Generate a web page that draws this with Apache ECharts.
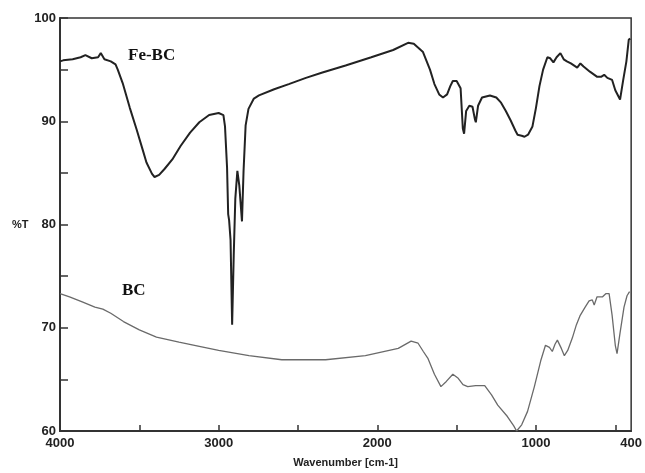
<!DOCTYPE html>
<html>
<head>
<meta charset="utf-8">
<script src="https://cdn.jsdelivr.net/npm/echarts@6/dist/echarts.min.js"></script>
<style>
  html, body { margin: 0; padding: 0; background: #fff; }
  #chart { width: 645px; height: 473px; }
</style>
</head>
<body>
<div id="chart"></div>
<script>
// Fe-BC spectrum (wavenumber, %T)
const feWn = [4000, 3980, 3920, 3870, 3840, 3800, 3760, 3743, 3720, 3680, 3650, 3636, 3605, 3560, 3517, 3480, 3455, 3420, 3404, 3375, 3340, 3292, 3240, 3180, 3122, 3060, 3000, 2970, 2960, 2947, 2940, 2934, 2925, 2915, 2905, 2895, 2882, 2870, 2853, 2843, 2830, 2812, 2778, 2746, 2650, 2558, 2450, 2351, 2200, 2038, 1900, 1806, 1770, 1712, 1668, 1640, 1610, 1586, 1560, 1540, 1524, 1500, 1475, 1461, 1453, 1440, 1420, 1400, 1385, 1379, 1365, 1340, 1290, 1250, 1220, 1190, 1160, 1130, 1116, 1090, 1072, 1050, 1022, 1000, 978, 955, 928, 910, 890, 870, 846, 825, 805, 780, 740, 720, 700, 660, 614, 590, 570, 550, 520, 500, 470, 450, 430, 415, 405];
const feT = [95.8, 95.9, 96.0, 96.2, 96.4, 96.1, 96.2, 96.6, 96.0, 95.8, 95.5, 95.0, 93.7, 91.3, 89.2, 87.3, 86.0, 84.9, 84.6, 84.8, 85.4, 86.3, 87.6, 88.9, 89.9, 90.6, 90.8, 90.6, 89.5, 85.5, 81.0, 80.4, 78.5, 70.3, 77.0, 82.5, 85.2, 83.8, 80.3, 85.2, 89.6, 91.2, 92.2, 92.5, 93.1, 93.6, 94.2, 94.7, 95.4, 96.2, 96.9, 97.6, 97.5, 96.7, 95.0, 93.6, 92.6, 92.3, 92.6, 93.4, 93.9, 93.9, 93.2, 89.3, 88.8, 91.0, 91.5, 91.4, 90.2, 89.9, 91.5, 92.3, 92.5, 92.3, 91.8, 91.0, 90.1, 89.1, 88.7, 88.6, 88.5, 88.7, 89.5, 91.3, 93.4, 95.0, 96.2, 96.1, 95.7, 96.2, 96.6, 96.0, 95.8, 95.6, 95.2, 95.6, 95.3, 94.8, 94.3, 94.3, 94.5, 94.2, 94.0, 93.0, 92.1, 94.0, 95.8, 97.9, 98.0];

// BC spectrum (wavenumber, %T)
const bcWn = [4000, 3940, 3860, 3780, 3730, 3680, 3600, 3500, 3392, 3250, 3122, 3000, 2809, 2602, 2326, 2075, 1868, 1787, 1743, 1710, 1680, 1640, 1599, 1565, 1524, 1490, 1460, 1430, 1380, 1323, 1280, 1241, 1180, 1140, 1122, 1090, 1053, 1010, 970, 940, 915, 897, 880, 865, 840, 821, 800, 771, 745, 721, 690, 665, 645, 633, 615, 580, 560, 539, 520, 500, 489, 470, 445, 426, 410];
const bcT = [73.3, 73.0, 72.5, 72.0, 71.8, 71.4, 70.6, 69.8, 69.1, 68.6, 68.2, 67.8, 67.3, 66.9, 66.9, 67.3, 68.0, 68.7, 68.5, 67.7, 67.0, 65.5, 64.3, 64.8, 65.5, 65.1, 64.5, 64.3, 64.4, 64.4, 63.5, 62.5, 61.4, 60.5, 60.0, 60.6, 61.9, 64.3, 66.8, 68.3, 68.1, 67.7, 68.4, 68.8, 68.0, 67.3, 67.8, 69.0, 70.3, 71.2, 72.0, 72.6, 72.7, 72.2, 73.0, 73.0, 73.3, 73.3, 71.2, 68.3, 67.5, 69.5, 72.0, 73.1, 73.5];

// axis ticks / labels
const xTicks = [4000, 3500, 3000, 2500, 2000, 1500, 1000, 500];
const xLabels = [4000, 3000, 2000, 1000, 400];

const zip = (a, b) => a.map((v, i) => [v, b[i]]);

const chart = echarts.init(document.getElementById('chart'));
const labelFont = { color: '#222', fontWeight: 'bold', fontSize: 13, fontFamily: 'Liberation Sans, Arial, sans-serif' };

const option = {
  animation: false,
  grid: {
    left: 60, right: 12, top: 18, bottom: 40,
    show: true, borderColor: '#333', borderWidth: 1.5,
  },
  xAxis: {
    type: 'value',
    inverse: true,
    min: 400,
    max: 4000,
    name: 'Wavenumber [cm-1]',
    nameLocation: 'middle',
    nameGap: 26,
    nameTextStyle: { color: '#222', fontWeight: 'bold', fontSize: 11, fontFamily: 'Liberation Sans, Arial, sans-serif' },
    axisLine: { show: true, lineStyle: { color: '#333', width: 2 } },
    axisTick: { show: true, inside: true, length: 6, customValues: xTicks, lineStyle: { color: '#333', width: 1.5 } },
    axisLabel: Object.assign({ margin: 6, customValues: xLabels, formatter: v => String(v) }, labelFont),
    splitLine: { show: false },
  },
  yAxis: {
    type: 'value',
    min: 60,
    max: 100,
    interval: 5,
    name: '%T',
    nameLocation: 'middle',
    nameRotate: 0,
    nameGap: 30,
    nameTextStyle: { color: '#222', fontWeight: 'bold', fontSize: 11, fontFamily: 'Liberation Sans, Arial, sans-serif' },
    axisLine: { show: true, lineStyle: { color: '#333', width: 2 } },
    axisTick: { show: true, inside: true, length: 8, lineStyle: { color: '#333', width: 1.5 } },
    axisLabel: Object.assign({
      margin: 4,
      formatter: v => (v % 10 === 0 ? String(v) : ''),
    }, labelFont),
    splitLine: { show: false },
  },
  series: [
    {
      name: 'Fe-BC',
      type: 'line',
      data: zip(feWn, feT),
      showSymbol: false,
      lineStyle: { color: '#222', width: 2 },
      z: 3,
    },
    {
      name: 'BC',
      type: 'line',
      data: zip(bcWn, bcT),
      showSymbol: false,
      lineStyle: { color: '#6a6a6a', width: 1.3 },
      z: 2,
    },
  ],
  graphic: [
    {
      type: 'text', left: 128, top: 47,
      style: { text: 'Fe-BC', fill: '#111', font: 'bold 17px "Liberation Serif", "Times New Roman", serif' },
    },
    {
      type: 'text', left: 122, top: 282,
      style: { text: 'BC', fill: '#111', font: 'bold 17px "Liberation Serif", "Times New Roman", serif' },
    },
  ],
};

chart.setOption(option);
</script>
</body>
</html>
